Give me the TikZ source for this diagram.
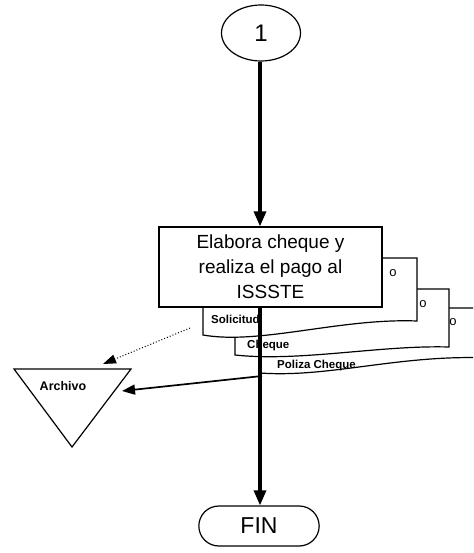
\documentclass[tikz,border=0pt]{standalone}
\usepackage{fontspec}
\setmainfont{Liberation Sans}
\usetikzlibrary{arrows.meta,shapes.geometric,shapes.misc}
\begin{document}
\begin{tikzpicture}[x=1pt,y=-1pt,
  thin line/.style={line width=1.2pt},
  flow/.style={line width=3.2pt,-{Triangle[length=15pt,width=12pt]}},
  link/.style={line width=1.7pt,-{Triangle[length=13pt,width=10pt]}},
  dotlink/.style={line width=1pt,dotted,-{Triangle[length=13pt,width=9pt]}},
  docshape/.style={thin line,fill=white},
  doclabel/.style={font=\fontsize{11.5}{12}\selectfont\bfseries,anchor=west,inner sep=0pt},
  mark o/.style={font=\fontsize{13}{13}\selectfont,inner sep=0pt}]
\useasboundingbox (0,0) rectangle (473,553);
\begin{scope}
\clip (0,0) rectangle (473,553);

% connector nodes
\node[ellipse,draw,thin line,minimum width=79pt,minimum height=56pt,inner sep=0pt,
  font=\fontsize{24}{24}\selectfont] (one) at (261,33) {1};

% document stack (back to front)
\draw[docshape] (260,373) -- (260,308) -- (490,308) -- (490,358)
  .. controls (400,354) and (330,378) .. (260,373) -- cycle;
\draw[docshape] (235,355) -- (235,289) -- (449,289) -- (449,347)
  .. controls (380,345) and (300,362) .. (235,355) -- cycle;
\draw[docshape] (203,335) -- (203,258) -- (417,258) -- (417,321)
  .. controls (340,318) and (260,345) .. (203,335) -- cycle;

\node[mark o] (o1) at (393,273) {o};
\node[mark o] (o2) at (423,304) {o};
\node[mark o] (o3) at (453,322) {o};

\node[doclabel] (sol) at (211,319) {Solicitud};
\node[doclabel] (chq) at (247,346) {Cheque};
\node[doclabel] (pol) at (277,366) {Poliza Cheque};

\coordinate (solout) at (190,328);
\coordinate (polout) at (262,376);

% process box
\node[draw,thin line,fill=white,minimum width=223pt,minimum height=80pt,
  align=center,font=\fontsize{19}{25}\selectfont] (proc) at (270.5,267)
  {Elabora cheque y\\realiza el pago al\\ISSSTE};

% archive triangle
\coordinate (tl) at (14,369);
\coordinate (tr) at (131,369);
\coordinate (tb) at (72,447);
\draw[thin line] (tl) -- (tr) -- (tb) -- cycle;
\node[font=\fontsize{12.5}{12}\selectfont\bfseries,inner sep=0pt] (arch) at (63,386) {Archivo};
\coordinate (archtop) at (103,364);
\coordinate (archside) at (122,391);

% terminator
\node[rounded rectangle,draw,thin line,minimum width=127pt,minimum height=40pt,
  font=\fontsize{23}{23}\selectfont] (fin) at (259,526) {FIN};

% flow lines
\draw[flow] (one.south -| 260,0) -- (260,0 |- proc.north);
\draw[flow] (260,0 |- proc.south) -- (260,0 |- fin.north);
\draw[dotlink] (solout) -- (archtop);
\draw[link] (polout) -- (archside);
\end{scope}
\end{tikzpicture}
\end{document}
